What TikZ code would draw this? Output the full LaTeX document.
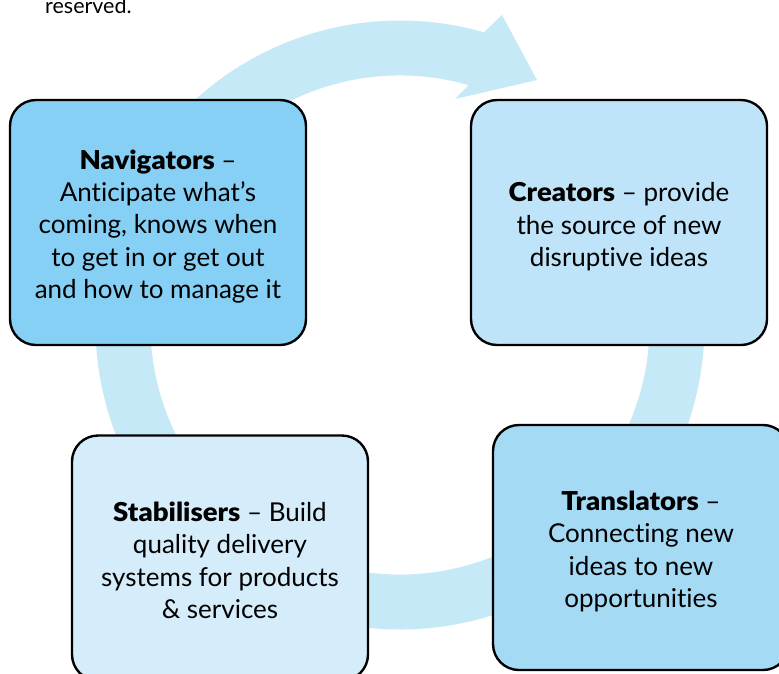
\documentclass[tikz,border=0pt]{standalone}
\usepackage{fontspec}
\setmainfont{Lato}[Ligatures=NoCommon, BoldFont={Lato Black}, BoldFeatures={FakeStretch=1.06}]
\definecolor{ringblue}{RGB}{197,233,247}
\definecolor{navfill}{RGB}{135,208,245}
\definecolor{crefill}{RGB}{191,228,249}
\definecolor{trafill}{RGB}{165,218,245}
\definecolor{stafill}{RGB}{213,236,250}
\begin{document}
\begin{tikzpicture}[x=1pt,y=-1pt,
  rolebox/.style={draw=black, line width=2.4pt, rounded corners=26pt,
    minimum width=296pt, minimum height=245pt, inner sep=0pt},
  roletext/.style={align=center, inner sep=0pt,
    font=\fontsize{26}{32.4}\selectfont, text=black}]
\useasboundingbox (0,0) rectangle (779,673);

% cut-off line of the note above the cycle
\node[anchor=base west, inner sep=0pt, font=\fontsize{21.5}{24}\selectfont] (note) at (45,13) {reserved.};

% cycle arrow behind the boxes
\begin{scope}[shift={(400,325)}]
  \fill[ringblue] (-40:304.5) arc[start angle=-40, end angle=286, radius=304.5]
    -- (102,-310) -- (137,-245) -- (55,-226)
    -- (286:249.5) arc[start angle=286, end angle=-40, radius=249.5] -- cycle;
\end{scope}

% the four roles
\node[rolebox, fill=navfill] (nav) at (158,222.5) {};
\node[rolebox, fill=crefill] (cre) at (619,222.5) {};
\node[rolebox, fill=trafill] (tra) at (641,547.5) {};
\node[rolebox, fill=stafill] (sta) at (220,558) {};

\node[roletext] (navtext) at ([yshift=-4pt]nav.center)
  {\textbf{Navigators} --\\Anticipate what's\\coming, knows when\\to get in or get out\\and how to manage it};
\node[roletext] (cretext) at ([yshift=-4.5pt]cre.center)
  {\textbf{Creators} -- provide\\the source of new\\disruptive ideas};
\node[roletext] (tratext) at ([yshift=-4pt]tra.center)
  {\textbf{Translators} --\\Connecting new\\ideas to new\\opportunities};
\node[roletext] (statext) at ([yshift=-2.5pt]sta.center)
  {\textbf{Stabilisers} -- Build\\quality delivery\\systems for products\\\& services};
\end{tikzpicture}
\end{document}
